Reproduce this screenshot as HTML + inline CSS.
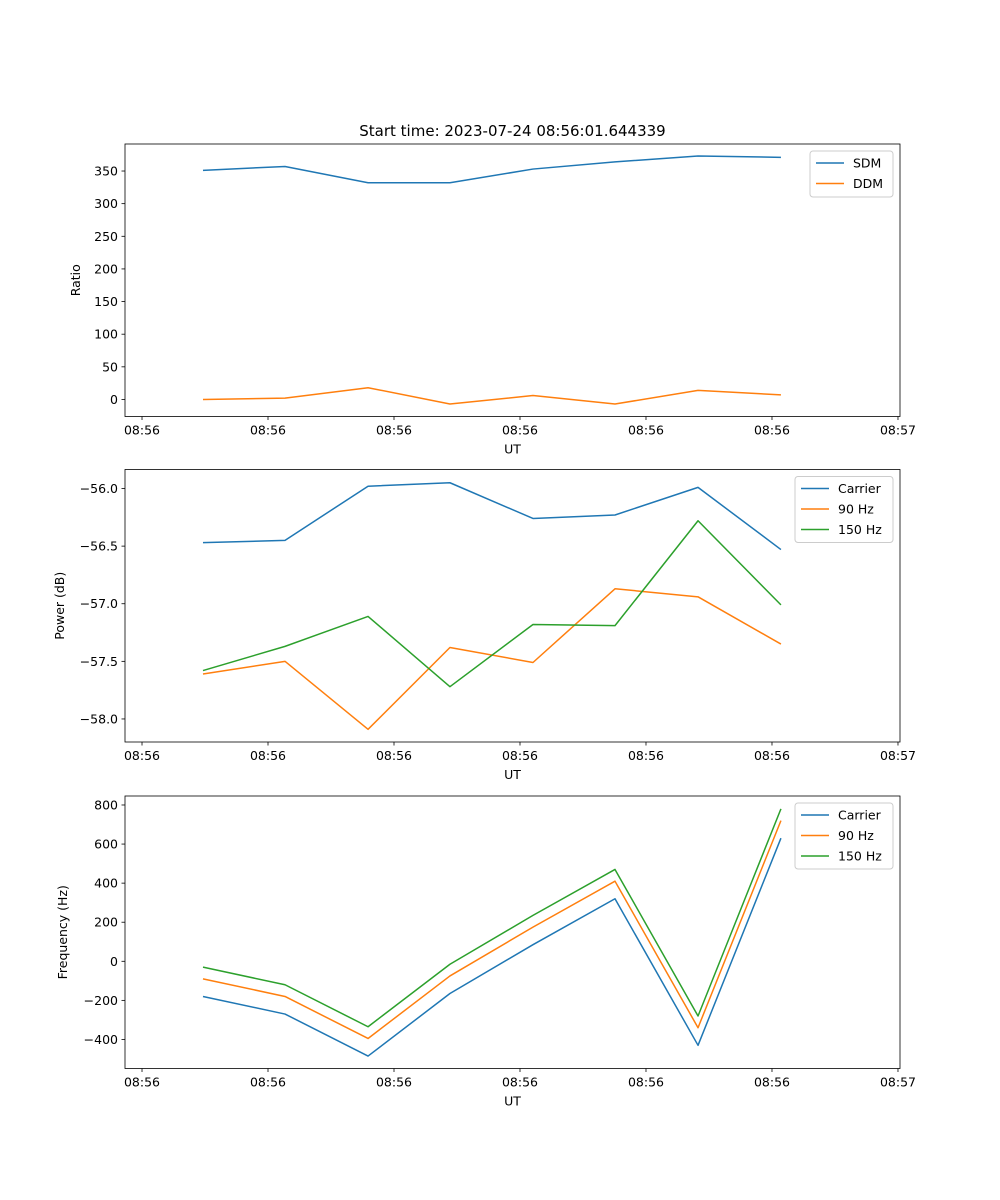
<!DOCTYPE html>
<html><head><meta charset="utf-8"><style>
body{margin:0;background:#fff}
svg{display:block;font-family:"DejaVu Sans","Liberation Sans",sans-serif}
</style></head><body>
<svg id="fig" width="1000" height="1200" viewBox="0 0 1000 1200" xmlns="http://www.w3.org/2000/svg">
<rect width="1000" height="1200" fill="#fff"/>
<text x="512.5" y="136" font-size="15" text-anchor="middle">Start time: 2023-07-24 08:56:01.644339</text>
</svg>
<script>
const xTickLabels = ["08:56","08:56","08:56","08:56","08:56","08:56","08:57"];
const xTicks = [0,1,2,3,4,5,6];
const times = [0.484,1.135,1.794,2.444,3.103,3.754,4.413,5.071];
const sdm = [351,357,332,332,353,364,373,371];
const ddm = [0,2,18,-7,6,-7,14,7];
const ratioTicks = [0,50,100,150,200,250,300,350];
const powCarrier = [-56.47,-56.45,-55.98,-55.95,-56.26,-56.23,-55.99,-56.53];
const pow90 = [-57.61,-57.50,-58.09,-57.38,-57.51,-56.87,-56.94,-57.35];
const pow150 = [-57.58,-57.37,-57.11,-57.72,-57.18,-57.19,-56.28,-57.01];
const powTicks = [-58.0,-57.5,-57.0,-56.5,-56.0];
const freqCarrier = [-180,-270,-485,-165,85,320,-430,630];
const freq90 = [-90,-180,-395,-75,175,410,-340,720];
const freq150 = [-30,-120,-335,-15,235,470,-280,780];
const freqTicks = [-400,-200,0,200,400,600,800];

const NS="http://www.w3.org/2000/svg";
const svg=document.getElementById('fig');
function mk(tag,attrs,parent){const e=document.createElementNS(NS,tag);for(const k in attrs)e.setAttribute(k,attrs[k]);(parent||svg).appendChild(e);return e;}
const C={blue:"#1f77b4",orange:"#ff7f0e",green:"#2ca02c"};

function panel(o){
  const L=125,R=900,T=o.top,B=o.top+272.5;
  const x0=-0.135,x1=6.016;
  const sx=v=>L+(v-x0)/(x1-x0)*(R-L);
  const sy=v=>B-(v-o.ymin)/(o.ymax-o.ymin)*(B-T);
  const g=mk('g',{});
  
  
  o.series.forEach(s=>{
    const p=mk('polyline',{points:s.v.map((v,i)=>sx(times[i])+','+sy(v)).join(' '),fill:'none',stroke:s.c,'stroke-width':1.5,'stroke-linejoin':'round'},g);
    
    
  });
  mk('rect',{x:L,y:T,width:R-L,height:B-T,fill:'none',stroke:'#000','stroke-width':0.8},g);
  xTicks.forEach((t,i)=>{
    const x=sx(t);
    mk('line',{x1:x,x2:x,y1:B,y2:B+3.5,stroke:'#000','stroke-width':0.8},g);
    const tx=mk('text',{x:x,y:B+18,'font-size':12.5,'text-anchor':'middle'},g);tx.textContent=xTickLabels[i];
    
    
  });
  o.ticks.forEach(t=>{
    const y=sy(t);
    mk('line',{x1:L-3.5,x2:L,y1:y,y2:y,stroke:'#000','stroke-width':0.8},g);
    const tx=mk('text',{x:L-7,y:y+4.5,'font-size':12.5,'text-anchor':'end'},g);
    tx.textContent=o.fmt(t);
    
    
  });
  const xl=mk('text',{x:(L+R)/2,y:B+37,'font-size':12.5,'text-anchor':'middle'},g);xl.textContent='UT';
  
  
  const yl=mk('text',{x:0,y:0,'font-size':12.5,'text-anchor':'middle',transform:`translate(${o.ylx},${(T+B)/2}) rotate(-90)`},g);yl.textContent=o.ylabel;
  
  
  const lw=o.legW,lh=6+o.series.length*20,lx=R-7-lw,ly=T+7;
  const lg=mk('g',{},g);
  
  
  mk('rect',{x:lx,y:ly,width:lw,height:lh,rx:3,fill:'#fff','fill-opacity':0.8,stroke:'#ccc'},lg);
  o.series.forEach((s,i)=>{
    const yy=ly+12+i*20.5;
    mk('line',{x1:lx+6,x2:lx+34,y1:yy,y2:yy,stroke:s.c,'stroke-width':1.5},lg);
    const t=mk('text',{x:lx+43,y:yy+4.5,'font-size':12.5},lg);t.textContent=s.label;
    
    
  });
}
panel({name:'ratio',top:144,ymin:-26.1,ymax:391.4,ticks:ratioTicks,fmt:v=>String(v),ylabel:'Ratio',ylx:80,legW:83,
  series:[{id:'sdm',label:'SDM',v:sdm,c:C.blue},{id:'ddm',label:'DDM',v:ddm,c:C.orange}]});
panel({name:'power',top:469.5,ymin:-58.2,ymax:-55.835,ticks:powTicks,fmt:v=>v.toFixed(1).replace('-','\u2212'),ylabel:'Power (dB)',ylx:64,legW:98,
  series:[{id:'carrier',label:'Carrier',v:powCarrier,c:C.blue},{id:'90hz',label:'90 Hz',v:pow90,c:C.orange},{id:'150hz',label:'150 Hz',v:pow150,c:C.green}]});
panel({name:'frequency',top:796,ymin:-548.7,ymax:846,ticks:freqTicks,fmt:v=>String(v).replace('-','\u2212'),ylabel:'Frequency (Hz)',ylx:67,legW:98,
  series:[{id:'carrier',label:'Carrier',v:freqCarrier,c:C.blue},{id:'90hz',label:'90 Hz',v:freq90,c:C.orange},{id:'150hz',label:'150 Hz',v:freq150,c:C.green}]});
</script>
</body></html>
